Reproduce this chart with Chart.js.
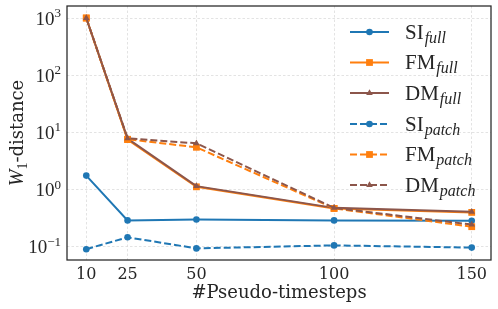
<!DOCTYPE html>
<html>
<head>
<meta charset="utf-8">
<script src="https://cdn.jsdelivr.net/npm/chart.js@4.4.1/dist/chart.umd.min.js"></script>
<style>
  html, body { margin: 0; padding: 0; background: #fff; }
  #wrap { width: 498px; height: 309px; }
</style>
</head>
<body>
<div id="wrap"><canvas id="chart"></canvas></div>
<script>
// pseudo-timesteps on the x axis
const steps = [10, 25, 50, 100, 150];
const xTicks = [10, 25, 50, 100, 150];
const yTickExps = [-1, 0, 1, 2, 3];

// W1-distance per method
const siFull = [1.76, 0.29, 0.30, 0.29, 0.285];
const fmFull = [1000, 7.5, 1.12, 0.47, 0.40];
const dmFull = [1000, 7.8, 1.15, 0.48, 0.41];
const siPatch = [0.091, 0.147, 0.094, 0.106, 0.097];
const fmPatch = [1000, 7.6, 5.5, 0.47, 0.225];
const dmPatch = [1000, 7.9, 6.45, 0.48, 0.245];

const labels = [
    ['SI', 'full'], ['FM', 'full'], ['DM', 'full'],
    ['SI', 'patch'], ['FM', 'patch'], ['DM', 'patch']
];

const BLUE = '#1f77b4', ORANGE = '#ff7f0e', BROWN = '#8c564b';
const DASH = [7, 3];

const series = [
    { data: siFull, color: BLUE, marker: 'circle', r: 3.3, dash: [] },
    { data: fmFull, color: ORANGE, marker: 'rect', r: 4.8, dash: [] },
    { data: dmFull, color: BROWN, marker: 'triangle', r: 3.8, dash: [] },
    { data: siPatch, color: BLUE, marker: 'circle', r: 3.3, dash: DASH },
    { data: fmPatch, color: ORANGE, marker: 'rect', r: 4.8, dash: DASH },
    { data: dmPatch, color: BROWN, marker: 'triangle', r: 3.8, dash: DASH }
];

function drawMarker(ctx, style, r, x, y) {
    ctx.beginPath();
    if (style === 'circle') {
        ctx.arc(x, y, r, 0, Math.PI * 2);
    } else if (style === 'rect') {
        const s = Math.SQRT1_2 * r;
        ctx.rect(x - s, y - s, 2 * s, 2 * s);
    } else {
        ctx.moveTo(x, y - r);
        ctx.lineTo(x + r * 0.866, y + r * 0.5);
        ctx.lineTo(x - r * 0.866, y + r * 0.5);
        ctx.closePath();
    }
    ctx.fill();
}

const decor = {
    id: 'decor',
    afterDraw(chart) {
        const { ctx, chartArea: a, scales: { y } } = chart;
        ctx.save();
        // axes frame
        ctx.strokeStyle = '#262626';
        ctx.lineWidth = 1.25;
        ctx.strokeRect(a.left, a.top, a.right - a.left, a.bottom - a.top);

        // y tick labels 10^n
        ctx.fillStyle = '#262626';
        ctx.textAlign = 'right';
        ctx.textBaseline = 'alphabetic';
        yTickExps.forEach(e => {
            const py = y.getPixelForValue(Math.pow(10, e));
            const sup = e < 0 ? '\u2212' + (-e) : String(e);
            ctx.font = '13px "Liberation Serif"';
            const sw = ctx.measureText(sup).width;
            ctx.fillText(sup, 61, py - 1);
            ctx.font = '19px "Liberation Serif"';
            ctx.fillText('10', 61 - sw, py + 6.5);
        });

        // y axis title
        ctx.save();
        ctx.translate(23, 133);
        ctx.rotate(-Math.PI / 2);
        ctx.textAlign = 'left';
        const pW = { t: 'W', f: 'italic 20px "Liberation Serif"', dy: 0 };
        const p1 = { t: '1', f: '14px "Liberation Serif"', dy: 4 };
        const pD = { t: '-distance', f: '18px "DejaVu Serif"', dy: 0 };
        const parts = [pW, p1, pD];
        let total = 0;
        parts.forEach(p => { ctx.font = p.f; p.w = ctx.measureText(p.t).width; total += p.w; });
        let cx = -total / 2;
        parts.forEach(p => { ctx.font = p.f; ctx.fillText(p.t, cx, p.dy); cx += p.w; });
        ctx.restore();

        // x axis title
        ctx.font = '18px "DejaVu Serif"';
        ctx.textAlign = 'center';
        ctx.fillText('#Pseudo-timesteps', (a.left + a.right) / 2, 298);

        // legend
        const rowY = [32, 62.5, 93, 124, 154.5, 185];
        series.forEach((s, i) => {
            const ly = rowY[i];
            ctx.strokeStyle = s.color;
            ctx.fillStyle = s.color;
            ctx.lineWidth = 2;
            ctx.setLineDash(s.dash);
            ctx.beginPath();
            ctx.moveTo(350, ly);
            ctx.lineTo(389, ly);
            ctx.stroke();
            ctx.setLineDash([]);
            drawMarker(ctx, s.marker, s.r, 369.5, ly);
            ctx.fillStyle = '#262626';
            ctx.textAlign = 'left';
            ctx.font = '21px "Liberation Serif"';
            ctx.fillText(labels[i][0], 405, ly + 6.5);
            const mw = ctx.measureText(labels[i][0]).width;
            ctx.font = 'italic 16px "Liberation Serif"';
            ctx.fillText(labels[i][1], 405 + mw + 1, ly + 10.5);
        });
        ctx.restore();
    }
};

new Chart(document.getElementById('chart'), {
    type: 'line',
    data: {
        datasets: series.map((s, i) => ({
            label: labels[i].join('_'),
            data: steps.map((x, k) => ({ x: x, y: s.data[k] })),
            borderColor: s.color,
            backgroundColor: s.color,
            borderWidth: 2,
            borderDash: s.dash,
            pointStyle: s.marker,
            pointRadius: s.r,
            pointBorderWidth: 0,
            pointBackgroundColor: s.color,
            tension: 0,
            order: series.length - i
        }))
    },
    options: {
        responsive: true,
        maintainAspectRatio: false,
        animation: false,
        events: [],
        layout: { padding: { left: 0, right: 7, top: 6, bottom: 0 } },
        plugins: { legend: { display: false }, tooltip: { enabled: false } },
        scales: {
            x: {
                type: 'linear',
                min: 3,
                max: 157,
                afterBuildTicks: sc => { sc.ticks = xTicks.map(v => ({ value: v })); },
                afterFit: sc => { sc.height = 49; },
                grid: { color: '#dcdcdc', lineWidth: 0.8, drawTicks: false },
                border: { display: false, dash: [2.5, 2] },
                ticks: {
                    padding: 5,
                    color: '#262626',
                    font: { family: 'DejaVu Serif', size: 16 },
                    maxRotation: 0,
                    autoSkip: false
                }
            },
            y: {
                type: 'logarithmic',
                min: Math.pow(10, -1.23),
                max: Math.pow(10, 3.21),
                afterBuildTicks: sc => { sc.ticks = yTickExps.map(e => ({ value: Math.pow(10, e) })); },
                afterFit: sc => { sc.width = 67; },
                grid: { color: '#dcdcdc', lineWidth: 0.8, drawTicks: false },
                border: { display: false, dash: [2.5, 2] },
                ticks: { display: false }
            }
        }
    },
    plugins: [decor]
});
</script>
</body>
</html>
